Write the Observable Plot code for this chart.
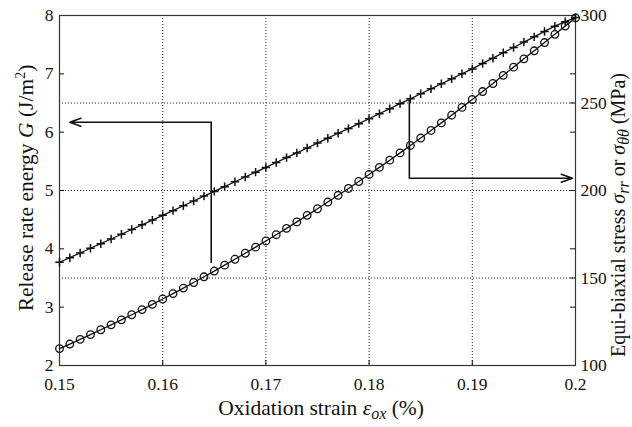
<!DOCTYPE html>
<html><head><meta charset="utf-8">
<script src="https://cdn.jsdelivr.net/npm/d3@7"></script>
<script src="https://cdn.jsdelivr.net/npm/@observablehq/plot@0.6"></script>
<style>body{margin:0;background:#fff;} svg text{font-family:"Liberation Serif",serif !important;font-variant-numeric:normal !important;}</style>
</head><body><div id="chart"></div>
<script>
// ---- data ----
const strain = [0.150,0.151,0.152,0.153,0.154,0.155,0.156,0.157,0.158,0.159,
  0.160,0.161,0.162,0.163,0.164,0.165,0.166,0.167,0.168,0.169,
  0.170,0.171,0.172,0.173,0.174,0.175,0.176,0.177,0.178,0.179,
  0.180,0.181,0.182,0.183,0.184,0.185,0.186,0.187,0.188,0.189,
  0.190,0.191,0.192,0.193,0.194,0.195,0.196,0.197,0.198,0.199,0.200];
// release rate energy G (J/m^2) - circles, left axis
const energyG = [2.290,2.368,2.448,2.530,2.613,2.697,2.783,2.870,2.958,3.048,
  3.140,3.233,3.327,3.423,3.521,3.619,3.720,3.821,3.924,4.029,
  4.135,4.242,4.351,4.462,4.574,4.687,4.802,4.918,5.035,5.154,
  5.275,5.397,5.520,5.645,5.772,5.899,6.029,6.159,6.291,6.425,
  6.560,6.696,6.834,6.974,7.115,7.257,7.395,7.536,7.677,7.818,7.958];
// equi-biaxial stress (MPa) - crosses, right axis
const stressS = [159.0,161.6,164.3,167.0,169.6,172.3,175.0,177.7,180.4,183.1,
  185.8,188.5,191.3,194.0,196.8,199.5,202.2,205.0,207.7,210.5,
  213.2,216.0,218.8,221.5,224.3,227.1,229.9,232.7,235.4,238.2,
  241.0,243.9,246.7,249.6,252.4,255.3,258.1,261.0,263.8,266.7,
  269.5,272.6,275.6,278.7,281.7,284.8,287.8,290.9,293.9,296.5,298.8];
const xTicks = [0.15,0.16,0.17,0.18,0.19,0.2];
const xGrid = [0.16,0.17,0.18,0.19];
const gTicks = [2,3,4,5,6,7,8];
const stressTicks = [100,150,200,250,300];
const stressGrid = [150,200,250];
const xDomain = [0.15,0.2];
const gDomain = [2,8];
const stressDomain = [100,300];
// annotation arrows (data units)
const arrowToG = [{x:0.1647, from:3.75, to:6.17, end:0.1510}];      // G units
const arrowToS = [{x:0.1839, from:251.5, to:207.0, end:0.1997}];    // MPa units

// ---- build ----
const toG = d3.scaleLinear().domain(stressDomain).range(gDomain);
const circles = strain.map((x,i)=>({x, y: energyG[i]}));
const crosses = strain.map((x,i)=>({x, y: toG(stressS[i])}));

const W = 632, H = 427, mL = 59, mR = 57, mT = 15, mB = 62;
const fw = W - mL - mR, fh = H - mT - mB;
const tickLen = 5;
const dash = "1,2";
const ink = "#111";
const serif = "'Liberation Serif', serif";
const plusSym = {draw(ctx, size){const r = Math.sqrt(size/Math.PI); ctx.moveTo(-r,0); ctx.lineTo(r,0); ctx.moveTo(0,-r); ctx.lineTo(0,r);}};

const rightTickPos = Array.from(new Set([...gTicks, ...stressTicks.map(s=>toG(s))]));

const chart = Plot.plot({
  width: W, height: H,
  marginLeft: mL, marginRight: mR, marginTop: mT, marginBottom: mB,
  x: {domain: xDomain},
  y: {domain: gDomain},
  style: {fontFamily: serif, fontSize: "17px", color: ink, background: "#fff"},
  marks: [
    Plot.ruleX(xGrid, {x: d=>d, stroke: "#222", strokeDasharray: dash, strokeWidth: 1}),
    Plot.ruleY(stressGrid, {y: s=>toG(s), stroke: "#222", strokeDasharray: dash, strokeWidth: 1}),
    // inward ticks
    Plot.tickY(gTicks, {y: d=>d, insetRight: fw - tickLen, stroke: ink}),
    Plot.tickY(rightTickPos, {y: d=>d, insetLeft: fw - tickLen, stroke: ink}),
    Plot.tickX(xTicks, {x: d=>d, insetTop: fh - tickLen, stroke: ink}),
    Plot.frame({stroke: "#333", strokeWidth: 1.2}),
    // series
    Plot.line(circles, {x: "x", y: "y", stroke: ink, strokeWidth: 1.3}),
    Plot.dot(circles, {x: "x", y: "y", r: 3.8, stroke: ink, fill: "none", strokeWidth: 1.3}),
    Plot.line(crosses, {x: "x", y: "y", stroke: ink, strokeWidth: 1.3}),
    Plot.dot(crosses, {x: "x", y: "y", r: 4.2, symbol: plusSym, stroke: ink, fill: "none", strokeWidth: 1.5}),
    // annotation arrows
    Plot.ruleX(arrowToG, {x: "x", y1: "from", y2: "to", stroke: ink, strokeWidth: 1.6}),
    Plot.arrow(arrowToG, {x1: "x", y1: "to", x2: "end", y2: "to", stroke: ink, strokeWidth: 1.6, headLength: 11, headAngle: 40}),
    Plot.ruleX(arrowToS, {x: "x", y1: d=>toG(d.from), y2: d=>toG(d.to), stroke: ink, strokeWidth: 1.6}),
    Plot.arrow(arrowToS, {x1: "x", y1: d=>toG(d.to), x2: "end", y2: d=>toG(d.to), stroke: ink, strokeWidth: 1.6, headLength: 11, headAngle: 40}),
    // axes (labels only)
    Plot.axisX(xTicks, {anchor: "bottom", tickSize: 0, tickPadding: 12, tickFormat: d=>String(d), label: null, fill: ink, fontFamily: serif, fontSize: 17.5}),
    Plot.axisY(gTicks, {anchor: "left", tickSize: 0, tickPadding: 6, tickFormat: d=>String(d), label: null, fill: ink, fontFamily: serif, fontSize: 17.5}),
    Plot.axisY(stressTicks.map(s=>toG(s)), {anchor: "right", tickSize: 0, tickPadding: 5, tickFormat: g=>String(Math.round(toG.invert(g))), label: null, fill: ink, fontFamily: serif, fontSize: 17.5})
  ]
});
document.getElementById("chart").appendChild(chart);

// axis titles with italic/sub/superscript parts
const svg = d3.select(chart);
const xl = svg.append("text").attr("x", 321).attr("y", 415).attr("text-anchor","middle")
  .attr("font-size", 21.5).attr("fill", ink);
xl.append("tspan").text("Oxidation strain ");
xl.append("tspan").attr("font-style","italic").text("ε");
xl.append("tspan").attr("font-style","italic").attr("font-size", 16).attr("dy", 4).text("ox");
xl.append("tspan").attr("dy", -4).text(" (%)");

const yl = svg.append("text").attr("transform","translate(33,188) rotate(-90)").attr("text-anchor","middle")
  .attr("font-size", 21.5).attr("fill", ink);
yl.append("tspan").text("Release rate energy ");
yl.append("tspan").attr("font-style","italic").text("G");
yl.append("tspan").text(" (J/m");
yl.append("tspan").attr("font-size", 14).attr("dy", -8).text("2");
yl.append("tspan").attr("dy", 8).text(")");

const yr = svg.append("text").attr("transform","translate(625,357) rotate(-90)").attr("text-anchor","start")
  .attr("font-size", 20).attr("fill", ink);
yr.append("tspan").text("Equi-biaxial stress ");
yr.append("tspan").attr("font-style","italic").text("σ");
yr.append("tspan").attr("font-style","italic").attr("font-size", 16).attr("dy", 4).text("rr");
yr.append("tspan").attr("dy", -4).text(" or ");
yr.append("tspan").attr("font-style","italic").text("σ");
yr.append("tspan").attr("font-style","italic").attr("font-size", 16).attr("dy", 4).text("θθ");
yr.append("tspan").attr("dy", -4).text(" (MPa)");

svg.selectAll("text").style("font-family", serif);
</script>
</body></html>
